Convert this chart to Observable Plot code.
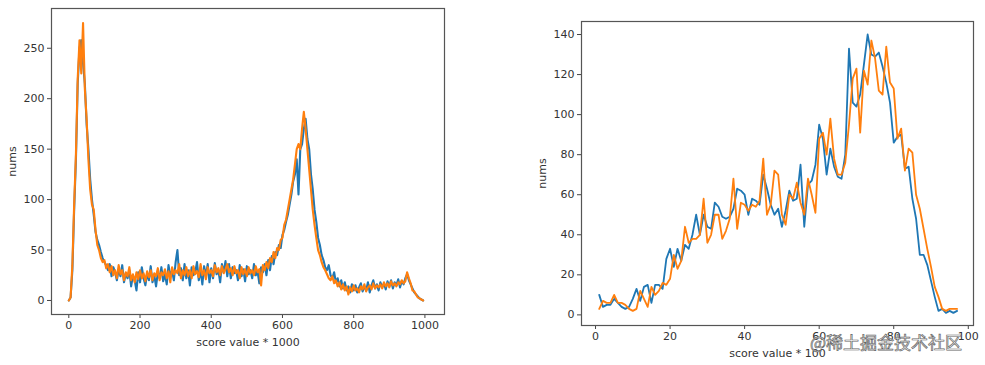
<!DOCTYPE html>
<html><head><meta charset="utf-8">
<script src="https://cdn.jsdelivr.net/npm/d3@7"></script>
<script src="https://cdn.jsdelivr.net/npm/@observablehq/plot@0.6"></script>
<style>
body{margin:0;background:#fff;width:985px;height:365px;position:relative;overflow:hidden;font-family:"DejaVu Sans",sans-serif}
#left{position:absolute;left:0;top:0}
#right{position:absolute;left:520px;top:0}
#wm{position:absolute;left:810px;top:330px;font-size:17px;line-height:24px;font-family:"Noto Sans CJK SC";color:#fff;-webkit-text-stroke:0.7px #666;white-space:nowrap}
</style></head><body>
<div id="left"></div><div id="right"></div><div id="wm">@稀土掘金技术社区</div>
<script>
// Left panel: score value * 1000, sampled every 5 units (0..995)
const leftStep = 5;
const leftBlue = [0,3,30,90,140,215,250,258,235,215,175,150,120,100,85,68,60,55,48,42,
38,35,30,36,24,33,28,20,31,24,35,18,27,22,30,14,25,20,10,28,
18,33,22,15,27,20,34,18,25,14,28,22,33,19,26,16,35,24,30,20,
38,50,25,32,20,36,22,30,15,33,25,28,38,20,30,16,34,24,36,18,
32,22,37,26,30,18,36,28,39,24,36,22,33,27,30,20,35,24,31,19,
34,26,30,22,36,25,29,17,33,28,36,25,40,30,44,36,48,45,55,52,
65,70,78,85,95,105,118,125,140,105,150,155,170,180,160,150,125,110,90,78,
62,55,45,40,33,30,35,25,22,28,18,22,14,20,12,18,10,14,8,16,
10,15,8,13,17,9,14,10,18,8,15,20,12,16,10,18,13,17,11,19,
14,20,12,18,15,21,13,19,16,22,26,20,16,12,8,6,4,2,1,0];
const leftOrange = [0,3,35,95,145,220,258,225,275,210,180,140,110,95,90,70,55,50,42,38,
40,32,36,28,34,25,30,22,35,26,30,20,28,24,33,20,26,18,28,21,
30,22,27,19,29,23,30,20,27,24,32,20,28,25,31,22,29,18,33,26,
30,27,36,22,30,25,33,24,30,22,34,26,29,23,36,25,30,21,33,27,
30,24,35,28,32,25,34,27,31,36,28,32,25,34,27,30,22,33,26,31,
24,33,27,30,25,34,28,31,15,35,30,38,32,42,38,48,42,52,50,60,
62,75,80,90,100,110,120,135,150,155,150,170,187,170,150,130,110,90,75,62,
50,45,38,33,30,26,22,20,24,17,20,14,18,11,16,10,14,6,13,9,
15,10,12,8,14,11,16,9,13,15,11,17,12,15,13,16,12,18,14,17,
13,19,15,17,14,18,16,20,17,19,28,22,17,10,9,6,3,2,1,0];
const leftXTicks = [0,200,400,600,800,1000];
const leftYTicks = [0,50,100,150,200,250];

// Right panel: score value * 100, x = 1..97
const rightStart = 1;
const rightBlue = [10,4,5,5,8,6,4,3,4,8,
13,7,14,15,6,15,15,13,28,33,
24,33,27,35,33,40,50,40,50,44,
43,56,54,49,48,49,53,63,62,60,
50,58,57,55,70,63,55,50,53,44,
52,62,57,58,75,44,65,67,75,95,
88,70,83,74,69,68,80,133,106,104,
110,125,140,130,129,131,124,116,106,86,
89,90,73,74,58,48,30,30,25,17,
9,2,3,1,2,1,2];
const rightOrange = [3,7,6,6,10,6,6,5,3,2,
3,12,8,4,14,10,12,16,15,18,
30,23,27,44,36,38,38,40,58,36,
40,50,50,38,42,48,68,43,56,55,
52,55,54,57,78,50,55,72,70,50,
45,60,58,66,56,50,68,60,51,88,
91,80,98,78,70,70,76,95,118,123,
91,122,115,137,128,112,110,134,116,113,
88,93,72,83,81,60,53,43,33,24,
14,9,3,2,3,3,3];
const rightXTicks = [0,20,40,60,80,100];
const rightYTicks = [0,20,40,60,80,100,120,140];

const BLUE = "#1f77b4", ORANGE = "#ff7f0e";

const leftB = leftBlue.map((v,i)=>({x:i*leftStep, y:v}));
const leftO = leftOrange.map((v,i)=>({x:i*leftStep, y:v}));
const rightB = rightBlue.map((v,i)=>({x:i+rightStart, y:v}));
const rightO = rightOrange.map((v,i)=>({x:i+rightStart, y:v}));

const style = {fontFamily:"DejaVu Sans", fontSize:"11px", color:"#333", background:"transparent", overflow:"visible"};

function panel({width, ml, mr, mt, mb, xd, yd, xt, yt, xl, b, o, sw, lo}) {
  return Plot.plot({
    width, height:365, marginLeft:ml, marginRight:mr, marginTop:mt, marginBottom:mb,
    style,
    x:{domain:xd}, y:{domain:yd},
    marks:[
      Plot.line(b,{x:"x",y:"y",stroke:BLUE,strokeWidth:sw}),
      Plot.line(o,{x:"x",y:"y",stroke:ORANGE,strokeWidth:sw}),
      Plot.axisX({ticks:xt, tickFormat:d=>String(d), tickSize:4, tickPadding:3, stroke:"#444", label:xl, labelAnchor:"center", labelArrow:"none", labelOffset:31}),
      Plot.axisY({ticks:yt, tickFormat:d=>String(d), tickSize:4, tickPadding:3, stroke:"#444", label:"nums", labelAnchor:"center", labelArrow:"none", labelOffset:lo}),
      Plot.frame({stroke:"#555", strokeWidth:1.2})
    ]
  });
}

document.getElementById("left").append(panel({
  width:460, ml:51, mr:16, mt:8, mb:51,
  xd:[-48.6,1055], yd:[-13.9,289.4], xt:leftXTicks, yt:leftYTicks,
  xl:"score value * 1000", b:leftB, o:leftO, sw:2.1, lo:43
}));
document.getElementById("right").append(panel({
  width:465, ml:61, mr:12, mt:21, mb:40,
  xd:[-3.76,101.4], yd:[-5.3,146.5], xt:rightXTicks, yt:rightYTicks,
  xl:"score value * 100", b:rightB, o:rightO, sw:1.8, lo:43
}));
</script>
</body></html>
